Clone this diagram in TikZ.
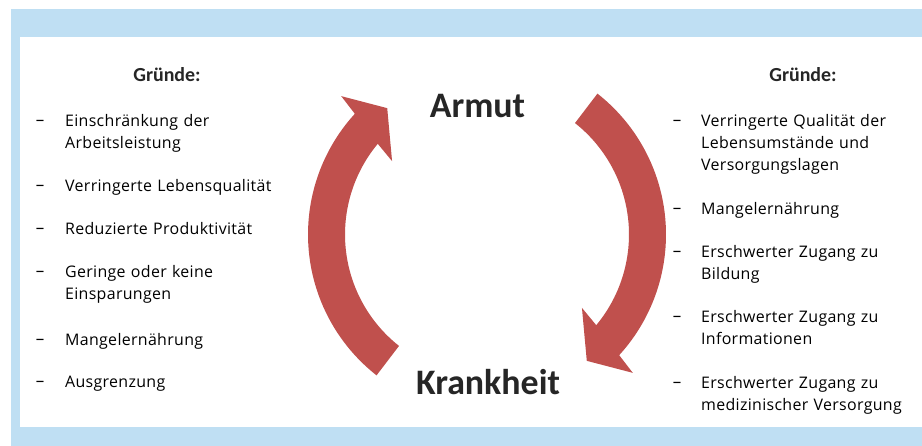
\documentclass[tikz,border=0pt]{standalone}
\usepackage{fontspec}
\setmainfont{Carlito}
\newfontfamily\handfont[LetterSpace=2]{Open Sans}
\usetikzlibrary{arrows.meta}

\definecolor{bandblue}{RGB}{191,223,243}
\definecolor{arrowred}{RGB}{192,80,77}
\definecolor{headgray}{RGB}{38,38,38}

\begin{document}
\begin{tikzpicture}[x=1bp,y=1bp,line join=bevel,
  bigword/.style={font=\bfseries\fontsize{36}{36}\selectfont,text=headgray,inner sep=0pt,anchor=base},
  reasonhead/.style={font=\bfseries\fontsize{20}{20}\selectfont,text=headgray,inner sep=0pt,anchor=base},
  reason/.style={font=\handfont\fontsize{16}{22}\selectfont,text width=230bp,align=left,inner sep=0pt,anchor=base west},
  dashmark/.style={font=\fontsize{20}{22}\selectfont,inner sep=0pt,anchor=base west},
]
\useasboundingbox (0,0) rectangle (922,446);
%% frame
\fill [bandblue] (11,0) rectangle (922,437);
\fill [white] (20,19) rectangle (922,409);
%% circular arrows
\begin{scope}[shift={(487,211.5)}]
  \fill [arrowred] (231.9:179) arc[start angle=231.9,end angle=137.6,radius=179]
    -- (136.5:201) -- (128.3:161) -- (142.3:120) -- (140.3:142)
    arc[start angle=140.3,end angle=231.7,radius=142] -- cycle;
  \fill [arrowred] (51.9:179) arc[start angle=51.9,end angle=-42.4,radius=179]
    -- (-43.5:201) -- (-51.7:161) -- (-37.7:120) -- (-39.7:142)
    arc[start angle=-39.7,end angle=51.7,radius=142] -- cycle;
\end{scope}
%% centre words
\node (armut) at (477.5bp,328bp) [bigword] {Armut};
\node (krankheit) at (488bp,51bp) [bigword] {Krankheit};
%% left list
\node (head_l) at (167bp,364bp) [reasonhead] {Gründe:};
\node (dash_l1) at (35bp,319bp) [dashmark] {–};
  \node (item_l1) at (65bp,319bp) [reason] {Einschränkung der\\Arbeitsleistung};
\node (dash_l2) at (35bp,254bp) [dashmark] {–};
  \node (item_l2) at (65bp,254bp) [reason] {Verringerte Lebensqualität};
\node (dash_l3) at (35bp,211bp) [dashmark] {–};
  \node (item_l3) at (65bp,211bp) [reason] {Reduzierte Produktivität};
\node (dash_l4) at (35bp,168bp) [dashmark] {–};
  \node (item_l4) at (65bp,168bp) [reason] {Geringe oder keine\\Einsparungen};
\node (dash_l5) at (35bp,100bp) [dashmark] {–};
  \node (item_l5) at (65bp,100bp) [reason] {Mangelernährung};
\node (dash_l6) at (35bp,58bp) [dashmark] {–};
  \node (item_l6) at (65bp,58bp) [reason] {Ausgrenzung};
%% right list
\node (head_r) at (803bp,364bp) [reasonhead] {Gründe:};
\node (dash_r1) at (672bp,319bp) [dashmark] {–};
  \node (item_r1) at (701bp,319bp) [reason] {Verringerte Qualität der\\Lebensumstände und\\Versorgungslagen};
\node (dash_r2) at (672bp,231bp) [dashmark] {–};
  \node (item_r2) at (701bp,231bp) [reason] {Mangelernährung};
\node (dash_r3) at (672bp,188bp) [dashmark] {–};
  \node (item_r3) at (701bp,188bp) [reason] {Erschwerter Zugang zu\\Bildung};
\node (dash_r4) at (672bp,123bp) [dashmark] {–};
  \node (item_r4) at (701bp,123bp) [reason] {Erschwerter Zugang zu\\Informationen};
\node (dash_r5) at (672bp,57bp) [dashmark] {–};
  \node (item_r5) at (701bp,57bp) [reason] {Erschwerter Zugang zu\\medizinischer Versorgung};
%
\end{tikzpicture}
\end{document}
